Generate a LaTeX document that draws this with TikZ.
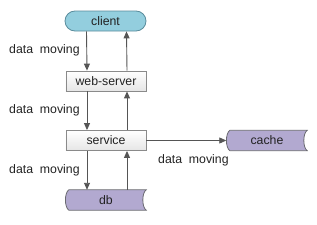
\documentclass[tikz,border=0pt]{standalone}
\usepackage{fontspec}
\setmainfont{Liberation Sans}
\usetikzlibrary{arrows.meta,calc}
\definecolor{clientfill}{HTML}{93CEDE}
\definecolor{clientline}{HTML}{5A8C9C}
\definecolor{storefill}{HTML}{B2A9D0}
\definecolor{storeline}{HTML}{6A6A70}
\definecolor{boxline}{HTML}{8A8A8A}
\definecolor{arrcol}{HTML}{555555}
\definecolor{txt}{HTML}{222222}
\tikzset{
  every node/.style={font=\fontsize{12.3pt}{14pt}\selectfont, text=txt},
  procbox/.style={draw=boxline, line width=0.8pt, top color=white, bottom color=black!10,
    minimum width=80pt, minimum height=20pt, inner sep=0pt},
  pill/.style={draw=clientline, line width=0.8pt, fill=clientfill, rounded corners=10pt,
    minimum width=81pt, minimum height=20pt, inner sep=0pt},
  storetext/.style={minimum width=80pt, minimum height=20pt, inner sep=0pt},
  storeshape/.style={draw=storeline, line width=0.8pt, fill=storefill},
  arr/.style={draw=arrcol, line width=0.9pt, -{Triangle[length=7pt,width=6pt]}},
  lbl/.style={inner sep=0pt, anchor=west}
}
\begin{document}
\begin{tikzpicture}[x=1pt,y=-1pt]
\useasboundingbox (0,0) rectangle (317,225);
\node[pill] (client) at (105.5,21) {client};
\node[procbox] (web) at (106,81) {web-server};
\node[procbox] (service) at (106,140.5) {service};
\node[storetext] (db) at (106,200) {};
\node[storetext] (cache) at (267,140.5) {};
% stored-data shapes
\foreach \n in {db,cache}{
  \path[storeshape] ($(\n.north west)+(3,0)$)
    .. controls ($(\n.west)+(-1.5,-7)$) and ($(\n.west)+(-1.5,7)$) .. ($(\n.south west)+(3,0)$)
    -- ($(\n.south east)+(0,0)$)
    .. controls ($(\n.east)+(-4.5,7)$) and ($(\n.east)+(-4.5,-7)$) .. ($(\n.north east)+(0,0)$)
    -- cycle;
}
\node at (db) {db};
\node at (cache) {cache};
% connectors
\draw[arr] ([xshift=-19pt]client.south) -- ([xshift=-19pt]web.north);
\draw[arr] ([xshift=21pt]web.north) -- ([xshift=21pt]client.south);
\draw[arr] ([xshift=-19pt]web.south) -- ([xshift=-19pt]service.north);
\draw[arr] ([xshift=21pt]service.north) -- ([xshift=21pt]web.south);
\draw[arr] ([xshift=-19pt]service.south) -- ([xshift=-19pt]db.north);
\draw[arr] ([xshift=21pt]db.north) -- ([xshift=21pt]service.south);
\draw[arr] (service.east) -- ($(cache.west)+(-0.5,0)$);
% labels
\node[lbl] (l1) at (9,50) {data\ \ moving};
\node[lbl] (l2) at (9,110) {data\ \ moving};
\node[lbl] (l3) at (9,170) {data\ \ moving};
\node[lbl] (l4) at (158,160) {data\ \ moving};
\end{tikzpicture}
\end{document}
